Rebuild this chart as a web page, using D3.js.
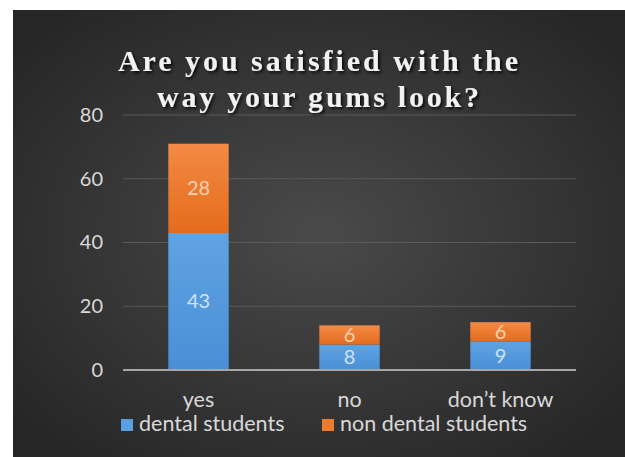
<!DOCTYPE html>
<html>
<head>
<meta charset="utf-8">
<script src="https://cdn.jsdelivr.net/npm/d3@7"></script>
<style>
  html, body { margin: 0; padding: 0; background: #ffffff; }
  svg { display: block; }
</style>
</head>
<body>
<svg id="chart" width="625" height="457"></svg>
<script>
const categories = ["yes", "no", "don’t know"];
const seriesNames = ["dental students", "non dental students"];
const dentalValues = [43, 8, 9];
const nonDentalValues = [28, 6, 6];
const yTicks = [0, 20, 40, 60, 80];
const titleLines = ["Are you satisfied with the", "way your gums look?"];

const svg = d3.select("#chart");
const defs = svg.append("defs");

const bg = defs.append("radialGradient").attr("id", "bgGrad")
  .attr("cx", "50%").attr("cy", "50%").attr("r", "65%");
bg.append("stop").attr("offset", "0%").attr("stop-color", "#4a4a4a");
bg.append("stop").attr("offset", "100%").attr("stop-color", "#262626");

const blueG = defs.append("linearGradient").attr("id", "blueGrad")
  .attr("x1", 0).attr("y1", 0).attr("x2", 0).attr("y2", 1);
blueG.append("stop").attr("offset", "0%").attr("stop-color", "#5fa3e2");
blueG.append("stop").attr("offset", "100%").attr("stop-color", "#4a8fd6");
const orangeG = defs.append("linearGradient").attr("id", "orangeGrad")
  .attr("x1", 0).attr("y1", 0).attr("x2", 0).attr("y2", 1);
orangeG.append("stop").attr("offset", "0%").attr("stop-color", "#f38a45");
orangeG.append("stop").attr("offset", "100%").attr("stop-color", "#e46c1c");

const shadow = defs.append("filter").attr("id", "shadow")
  .attr("x", "-10%").attr("y", "-30%").attr("width", "120%").attr("height", "160%");
shadow.append("feDropShadow").attr("dx", 2).attr("dy", 2).attr("stdDeviation", 1.5)
  .attr("flood-color", "#000").attr("flood-opacity", 0.8);

svg.append("rect").attr("x", 13).attr("y", 10).attr("width", 612).attr("height", 447)
  .attr("fill", "url(#bgGrad)");

const x = d3.scaleBand().domain(categories).range([123, 576])
  .paddingInner(0.6).paddingOuter(0.3);
const y = d3.scaleLinear().domain([0, 80]).range([370, 115]);

const font = "Lato, 'Open Sans', sans-serif";
const txtColor = "#d9d9d9";

svg.append("g").selectAll("line").data(yTicks.filter(d => d > 0)).join("line")
  .attr("x1", 123).attr("x2", 576)
  .attr("y1", d => y(d)).attr("y2", d => y(d))
  .attr("stroke", "#5a5a5a").attr("stroke-width", 1);

const yAxis = svg.append("g").attr("transform", "translate(110,0)")
  .call(d3.axisLeft(y).tickValues(yTicks).tickSize(0).tickPadding(7));
yAxis.select(".domain").remove();
yAxis.selectAll("text").attr("font-family", font).attr("font-size", 20)
  .attr("fill", txtColor);

const rows = categories.map((c, i) => ({ cat: c, dental: dentalValues[i], non: nonDentalValues[i] }));
const stack = d3.stack().keys(["dental", "non"])(rows);
const fills = ["url(#blueGrad)", "url(#orangeGrad)"];

stack.forEach((layer, li) => {
  const g = svg.append("g");
  g.selectAll("rect").data(layer).join("rect")
    .attr("x", d => x(d.data.cat))
    .attr("width", x.bandwidth())
    .attr("y", d => y(d[1]))
    .attr("height", d => y(d[0]) - y(d[1]))
    .attr("fill", fills[li]);
  g.selectAll("text").data(layer).join("text")
    .attr("x", d => x(d.data.cat) + x.bandwidth() / 2)
    .attr("y", d => (y(d[0]) + y(d[1])) / 2)
    .attr("dy", "0.35em")
    .attr("text-anchor", "middle")
    .attr("font-family", font).attr("font-size", 20)
    .attr("fill", li === 0 ? "#cfe2f5" : "#f8d2b4")
    .text(d => d[1] - d[0]);
});

svg.append("line").attr("x1", 123).attr("x2", 576).attr("y1", y(0)).attr("y2", y(0))
  .attr("stroke", "#a6a6a6").attr("stroke-width", 2);

const xAxis = svg.append("g").attr("transform", `translate(0,${y(0)})`)
  .call(d3.axisBottom(x).tickSize(0).tickPadding(22));
xAxis.select(".domain").remove();
xAxis.selectAll("text").attr("font-family", font).attr("font-size", 21.5)
  .attr("fill", txtColor);

const title = svg.append("g").attr("filter", "url(#shadow)");
const titleWidths = [400, 322];
titleLines.forEach((t, i) => {
  title.append("text")
    .attr("x", 318).attr("y", 71 + i * 36)
    .attr("text-anchor", "middle")
    .attr("font-family", "'Liberation Serif', 'Times New Roman', serif")
    .attr("font-weight", "bold").attr("font-size", 30)
    .attr("fill", "#f2f2f2")
    .attr("textLength", titleWidths[i]).attr("lengthAdjust", "spacing")
    .text(t);
});

const legendX = [121, 322];
const legendFills = ["#5a9fe0", "#ee7a2c"];
seriesNames.forEach((s, i) => {
  svg.append("rect").attr("x", legendX[i]).attr("y", 419).attr("width", 12).attr("height", 12)
    .attr("fill", legendFills[i]);
  svg.append("text").attr("x", legendX[i] + 18).attr("y", 431)
    .attr("font-family", font).attr("font-size", 21.5).attr("fill", txtColor)
    .text(s);
});
</script>
</body>
</html>
